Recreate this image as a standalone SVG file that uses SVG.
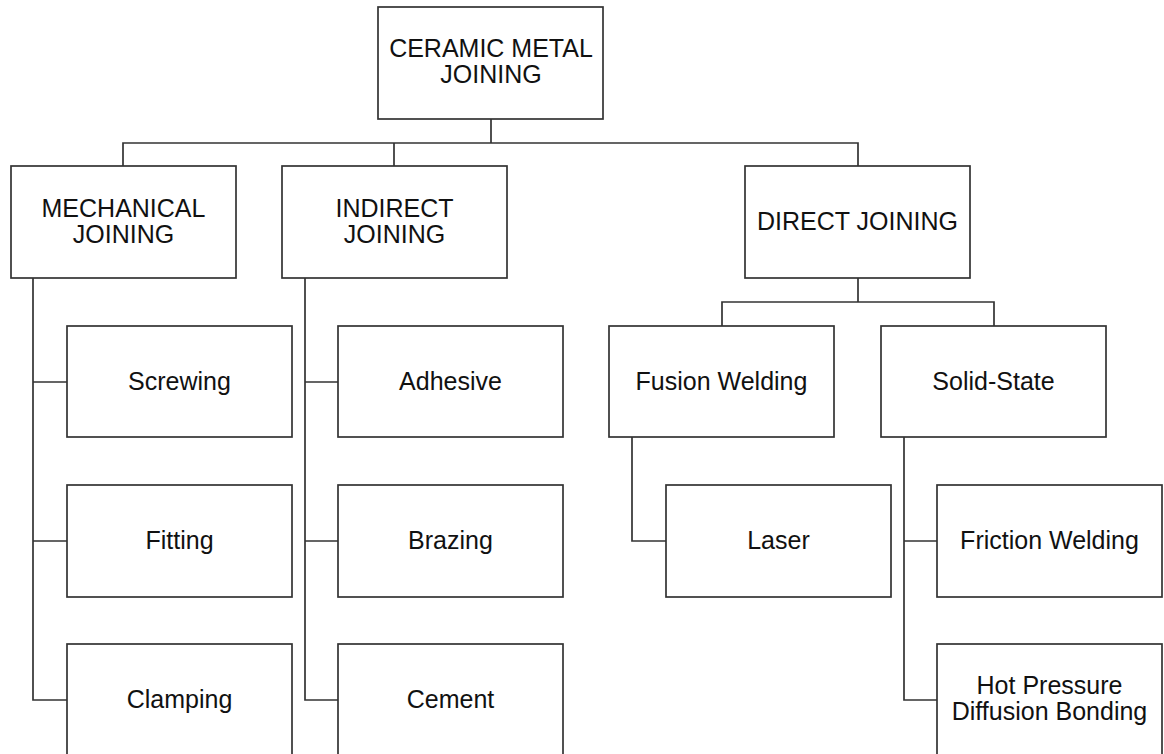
<svg xmlns="http://www.w3.org/2000/svg" width="1164" height="754" viewBox="0 0 1164 754">
<style>
.box{fill:#fff;stroke:#333;stroke-width:1.7}
.ln{fill:none;stroke:#333;stroke-width:1.7}
text{font-family:"Liberation Sans",Arial,sans-serif;font-size:25px;fill:#111;text-anchor:middle}
</style>
<rect width="1164" height="754" fill="#fff"/>
<g id="connectors">
<path class="ln" d="M491 119V143M123 166V143H858V166M394 143V166"/>
<path class="ln" d="M33 278V700H67M33 382H67M33 541H67"/>
<path class="ln" d="M305 278V700H338M305 382H338M305 541H338"/>
<path class="ln" d="M858 278V302M722 326V302H994V326"/>
<path class="ln" d="M632 437V541H666"/>
<path class="ln" d="M904 437V700H937M904 541H937"/>
</g>
<g id="n-root"><rect class="box" x="378" y="7" width="225" height="112"/><text x="491" y="57">CERAMIC METAL</text><text x="491" y="83">JOINING</text></g>
<g id="n-mech"><rect class="box" x="11" y="166" width="225" height="112"/><text x="123.5" y="217">MECHANICAL</text><text x="123.5" y="243">JOINING</text></g>
<g id="n-indirect"><rect class="box" x="282" y="166" width="225" height="112"/><text x="394.5" y="217">INDIRECT</text><text x="394.5" y="243">JOINING</text></g>
<g id="n-direct"><rect class="box" x="745" y="166" width="225" height="112"/><text x="857.5" y="230">DIRECT JOINING</text></g>
<g id="n-screwing"><rect class="box" x="67" y="326" width="225" height="111"/><text x="179.5" y="390">Screwing</text></g>
<g id="n-fitting"><rect class="box" x="67" y="485" width="225" height="112"/><text x="179.5" y="549">Fitting</text></g>
<g id="n-clamping"><rect class="box" x="67" y="644" width="225" height="112"/><text x="179.5" y="708">Clamping</text></g>
<g id="n-adhesive"><rect class="box" x="338" y="326" width="225" height="111"/><text x="450.5" y="390">Adhesive</text></g>
<g id="n-brazing"><rect class="box" x="338" y="485" width="225" height="112"/><text x="450.5" y="549">Brazing</text></g>
<g id="n-cement"><rect class="box" x="338" y="644" width="225" height="112"/><text x="450.5" y="708">Cement</text></g>
<g id="n-fusion"><rect class="box" x="609" y="326" width="225" height="111"/><text x="721.5" y="390">Fusion Welding</text></g>
<g id="n-solid"><rect class="box" x="881" y="326" width="225" height="111"/><text x="993.5" y="390">Solid-State</text></g>
<g id="n-laser"><rect class="box" x="666" y="485" width="225" height="112"/><text x="778.5" y="549">Laser</text></g>
<g id="n-friction"><rect class="box" x="937" y="485" width="225" height="112"/><text x="1049.5" y="549">Friction Welding</text></g>
<g id="n-hotpressure"><rect class="box" x="937" y="644" width="225" height="112"/><text x="1049.5" y="694">Hot Pressure</text><text x="1049.5" y="720">Diffusion Bonding</text></g>
</svg>
